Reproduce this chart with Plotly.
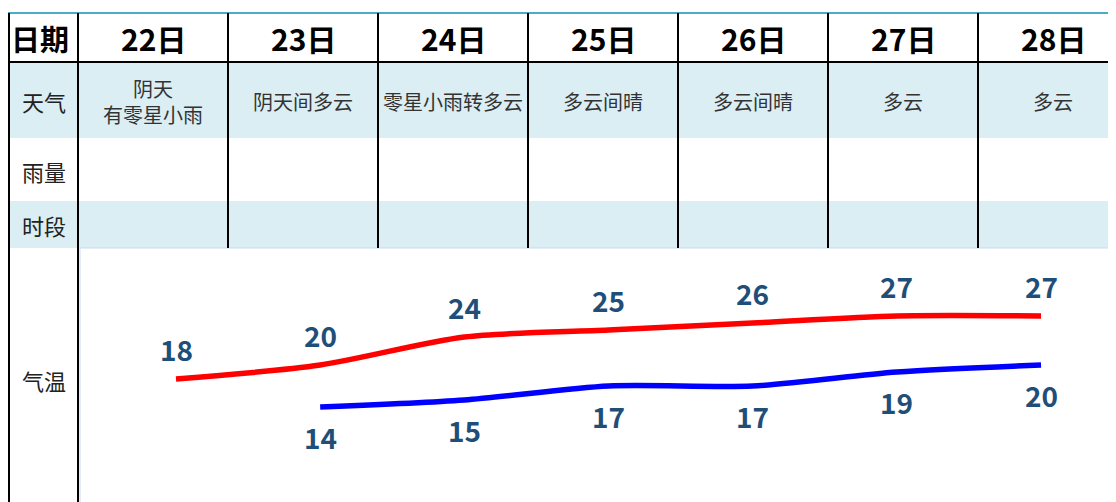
import plotly.graph_objects as go

# ---- data ----
dates = ["22日", "23日", "24日", "25日", "26日", "27日", "28日"]
weather = ["阴天<br>有零星小雨", "阴天间多云", "零星小雨转多云", "多云间晴", "多云间晴", "多云", "多云"]
row_labels = ["天气", "雨量", "时段", "气温"]
high_temp = [18, 20, 24, 25, 26, 27, 27]
low_days = [1, 2, 3, 4, 5, 6]
low_temp = [14, 15, 17, 17, 19, 20]

SW, SH = 1116, 502          # screen size
OX, OY = 8, 8               # page body margin
W, H = SW, SH               # figure size (overflows slightly to fill the window)
FONT = "Noto Sans CJK SC"
FILL = "#DAEEF3"


def px(x):
    return (x - OX) / W


def py(y):
    return 1 - (y - OY) / H


fig = go.Figure()

shapes = []
# row fills
for y0, y1 in [(62, 138), (201, 248)]:
    shapes.append(dict(type="rect", xref="paper", yref="paper", x0=px(8), x1=px(SW + 10), y0=py(y1), y1=py(y0),
                       fillcolor=FILL, line=dict(width=0), layer="below"))
# chart area light border
shapes.append(dict(type="rect", xref="paper", yref="paper", x0=px(80), x1=px(SW + 10), y0=py(SH + 10), y1=py(248),
                   line=dict(color="#C9DCEF", width=1), fillcolor="rgba(0,0,0,0)", layer="below"))
# top teal border
shapes.append(dict(type="line", xref="paper", yref="paper", x0=px(8), x1=px(SW + 10), y0=py(13), y1=py(13),
                   line=dict(color="#4BACC6", width=2)))
# header bottom
shapes.append(dict(type="line", xref="paper", yref="paper", x0=px(8), x1=px(SW + 10), y0=py(62), y1=py(62),
                   line=dict(color="black", width=2)))
# left border and label column border
for xv in [9, 78]:
    shapes.append(dict(type="line", xref="paper", yref="paper", x0=px(xv), x1=px(xv), y0=py(13), y1=py(SH + 10),
                       line=dict(color="black", width=2)))
# column dividers
for i in range(1, len(dates)):
    xv = 78 + 150 * i
    shapes.append(dict(type="line", xref="paper", yref="paper", x0=px(xv), x1=px(xv), y0=py(13), y1=py(248),
                       line=dict(color="black", width=2)))

ann = []


def txt(text, x, y, size, color, **kw):
    ann.append(dict(text=text, x=px(x), y=py(y), xref="paper", yref="paper", showarrow=False,
                    xanchor="center", yanchor="middle", align="center",
                    font=dict(family=FONT, size=size, color=color), **kw))


txt("<b>日期</b>", 40, 38, 29, "black")
for i, d in enumerate(dates):
    cx = 153 + 150 * i
    txt("<b>%s</b>" % d, cx, 38, 30, "black")
    txt(weather[i], cx, 101, 20, "#333333")
for lab, yv in zip(row_labels, [101, 171, 225, 380]):
    txt(lab, 44, yv, 22, "#222222")

# temperature lines
fig.add_trace(go.Scatter(x=list(range(len(high_temp))), y=high_temp, mode="lines",
                         line=dict(color="#FF0000", width=5.5, shape="spline", smoothing=0.8), hoverinfo="skip"))
fig.add_trace(go.Scatter(x=low_days, y=low_temp, mode="lines",
                         line=dict(color="#0000FF", width=5.5, shape="spline", smoothing=0.8), hoverinfo="skip"))

for i, t in enumerate(high_temp):
    ann.append(dict(text="<b>%d</b>" % t, x=i, y=t, xref="x", yref="y", showarrow=False, yshift=30,
                    xanchor="center", yanchor="middle",
                    font=dict(family=FONT, size=28, color="#1F4E79")))
for d, t in zip(low_days, low_temp):
    ann.append(dict(text="<b>%d</b>" % t, x=d, y=t, xref="x", yref="y", showarrow=False, yshift=-30,
                    xanchor="center", yanchor="middle",
                    font=dict(family=FONT, size=28, color="#1F4E79")))

step = 144.17
r0 = -(176 - 78) / step
r1 = r0 + (SW - 78) / step
ypp = 7.0
y_lo = 14 - (SH - 407) / ypp
y_hi = 14 + (407 - 248) / ypp

fig.update_layout(
    width=W, height=H, margin=dict(l=0, r=0, t=0, b=0),
    paper_bgcolor="white", plot_bgcolor="rgba(0,0,0,0)",
    showlegend=False, shapes=shapes, annotations=ann,
    xaxis=dict(domain=[px(78), px(SW)], range=[r0, r1], visible=False, fixedrange=True),
    yaxis=dict(domain=[py(SH), py(248)], range=[y_lo, y_hi], visible=False, fixedrange=True),
)

fig.write_html("out.html", config={"displayModeBar": False})
